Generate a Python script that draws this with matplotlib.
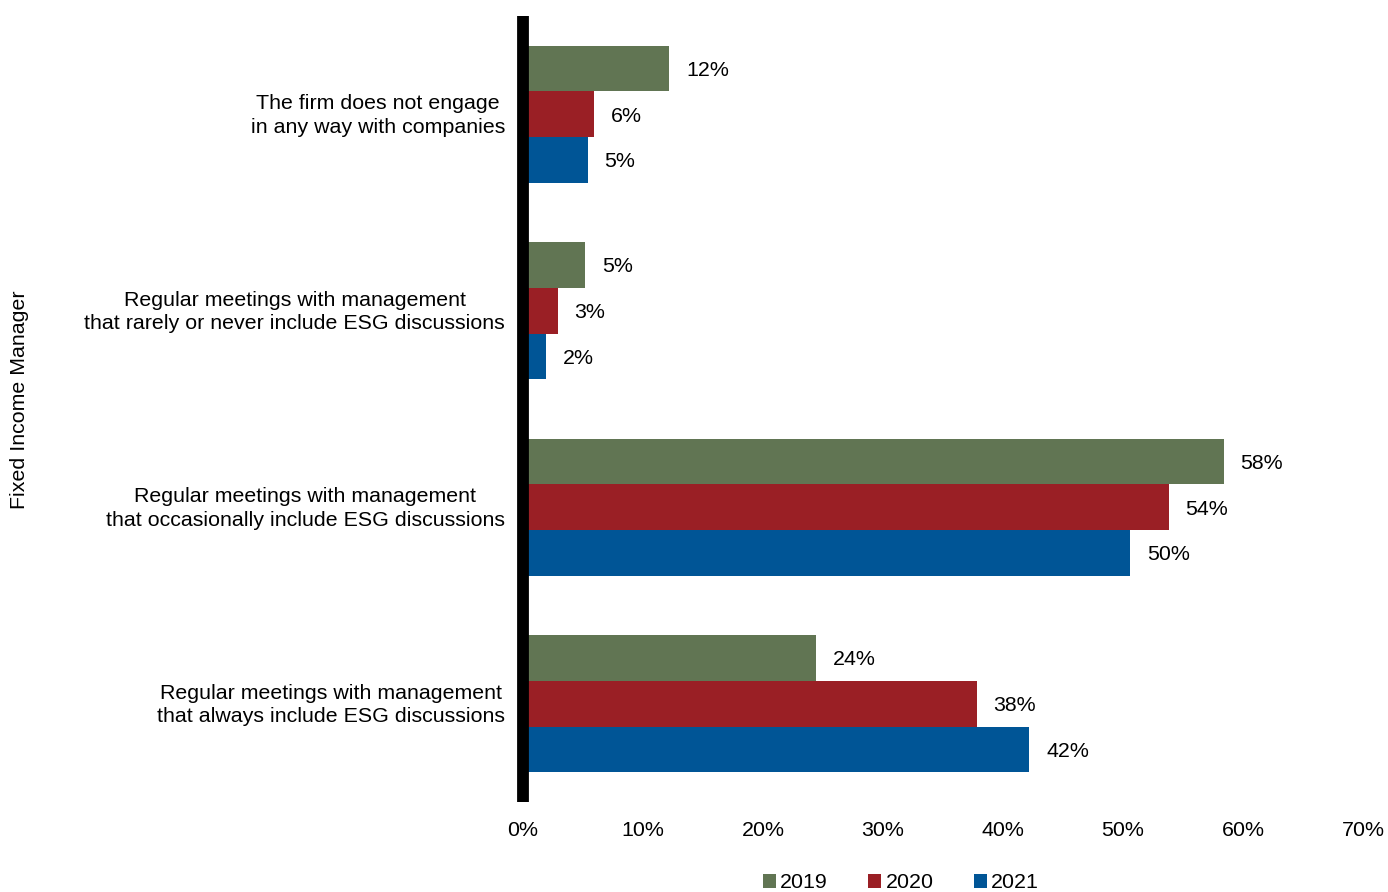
import numpy as np
import matplotlib.pyplot as plt

plt.rcParams["font.family"] = ["Liberation Sans", "DejaVu Sans"]

categories = [
    "The firm does not engage\nin any way with companies",
    "Regular meetings with management\nthat rarely or never include ESG discussions",
    "Regular meetings with management\nthat occasionally include ESG discussions",
    "Regular meetings with management\nthat always include ESG discussions",
]
years = ["2019", "2020", "2021"]
values_2019 = [12.2, 5.2, 58.4, 24.4]
values_2020 = [5.9, 2.9, 53.8, 37.8]
values_2021 = [5.4, 1.9, 50.6, 42.2]
labels_2019 = ["12%", "5%", "58%", "24%"]
labels_2020 = ["6%", "3%", "54%", "38%"]
labels_2021 = ["5%", "2%", "50%", "42%"]

colors = ["#617553", "#9A1F25", "#005596"]
fs = 15.4

fig = plt.figure(figsize=(13.88, 8.92), dpi=100)
ax = fig.add_axes([523 / 1388, 1 - 802 / 892, 840 / 1388, 786 / 892])

y = np.arange(len(categories))
h = 0.233
series = [values_2019, values_2020, values_2021]
texts = [labels_2019, labels_2020, labels_2021]
for i, (vals, labs, yr) in enumerate(zip(series, texts, years)):
    pos = y + (i - 1) * h
    ax.barh(pos, vals, height=h, color=colors[i], label=yr)
    for p, v, t in zip(pos, vals, labs):
        ax.text(v + 1.4, p + 0.01, t, va="center", ha="left", fontsize=fs)

ax.set_ylim(3.5, -0.5)
ax.set_xlim(0, 70)
ax.set_yticks(y - 0.015)
ax.set_yticklabels(categories, fontsize=fs, multialignment="center", linespacing=1.3)
ax.set_xticks(np.arange(0, 71, 10))
ax.set_xticklabels([f"{v}%" for v in range(0, 71, 10)], fontsize=fs)
ax.tick_params(axis="both", length=0)
ax.tick_params(axis="y", pad=13)
ax.tick_params(axis="x", pad=14)
for s in ["top", "right", "bottom"]:
    ax.spines[s].set_visible(False)
ax.spines["left"].set_linewidth(8.5)
ax.spines["left"].set_color("black")
ax.spines["left"].set_capstyle("butt")

fig.text(20 / 1388, 1 - 400 / 892, "Fixed Income Manager", rotation=90,
         va="center", ha="center", fontsize=fs)

fig.legend(loc="center", bbox_to_anchor=(901 / 1388, 1 - 883 / 892), ncol=3,
           frameon=False, fontsize=fs, handlelength=0.6, handleheight=0.6,
           handletextpad=0.2, columnspacing=1.9)

fig.savefig("out.png", dpi=100)
